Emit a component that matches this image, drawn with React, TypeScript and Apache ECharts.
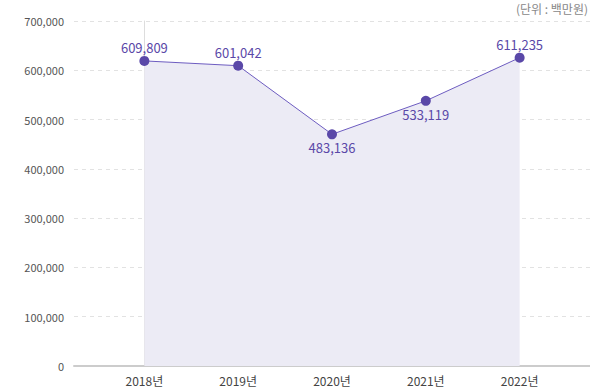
import React, { useEffect, useRef } from "react";
import * as echarts from "echarts";

const categories = ["2018년", "2019년", "2020년", "2021년", "2022년"];
const plottedValues = [619000, 609300, 470100, 538000, 625600];
const valueLabels = ["609,809", "601,042", "483,136", "533,119", "611,235"];
const unitText = "(단위 : 백만원)";
const yMax = 700000;
const yStep = 100000;

const FONT = "'Noto Sans CJK KR', 'Noto Sans', sans-serif";

export default function App() {
  const ref = useRef<HTMLDivElement>(null);
  useEffect(() => {
    if (!ref.current) return;
    const chart = echarts.init(ref.current, undefined, { renderer: "svg" });
    const below = [false, false, true, true, false];
    chart.setOption({
      animation: false,
      textStyle: { fontFamily: FONT },
      grid: { left: 74, right: 0, top: 21, bottom: 22, containLabel: false },
      graphic: [
        {
          type: "text",
          right: 2,
          top: 2,
          style: { text: unitText, fill: "#888", fontSize: 12, fontFamily: FONT },
        },
      ],
      xAxis: {
        type: "value",
        min: -0.75,
        max: categories.length - 0.25,
        axisLine: { show: true, lineStyle: { color: "#cccccc", width: 2 } },
        axisTick: { show: false },
        splitLine: { show: false },
        axisLabel: {
          customValues: categories.map((_, i) => i),
          formatter: (v: number) => categories[Math.round(v)] ?? "",
          color: "#444",
          fontSize: 12,
          margin: 8,
          fontFamily: FONT,
        },
      },
      yAxis: {
        type: "value",
        min: 0,
        max: yMax,
        interval: yStep,
        axisLine: { show: true, lineStyle: { color: "#dddddd", width: 1 } },
        axisTick: { show: false },
        splitLine: { show: true, lineStyle: { color: "#e2e2e2", type: [4, 4] } },
        axisLabel: {
          color: "#555",
          fontSize: 11,
          margin: 10,
          fontFamily: FONT,
          formatter: (v: number) => v.toLocaleString("en-US"),
        },
      },
      series: [
        {
          type: "line",
          data: plottedValues.map((v, i) => ({
            value: [i, v],
            label: { position: below[i] ? "bottom" : "top" },
          })),
          symbol: "circle",
          symbolSize: 10,
          itemStyle: { color: "#5a48a8" },
          lineStyle: { color: "#6d5cc0", width: 1 },
          areaStyle: { color: "#ecebf5", opacity: 1 },
          label: {
            show: true,
            distance: 2,
            color: "#5a48a8",
            fontSize: 13,
            fontFamily: FONT,
            formatter: (p: any) => valueLabels[p.dataIndex],
          },
        },
      ],
    });
    return () => chart.dispose();
  }, []);
  return <div ref={ref} style={{ width: 590, height: 388, position: "absolute", left: 0, top: 0 }} />;
}
